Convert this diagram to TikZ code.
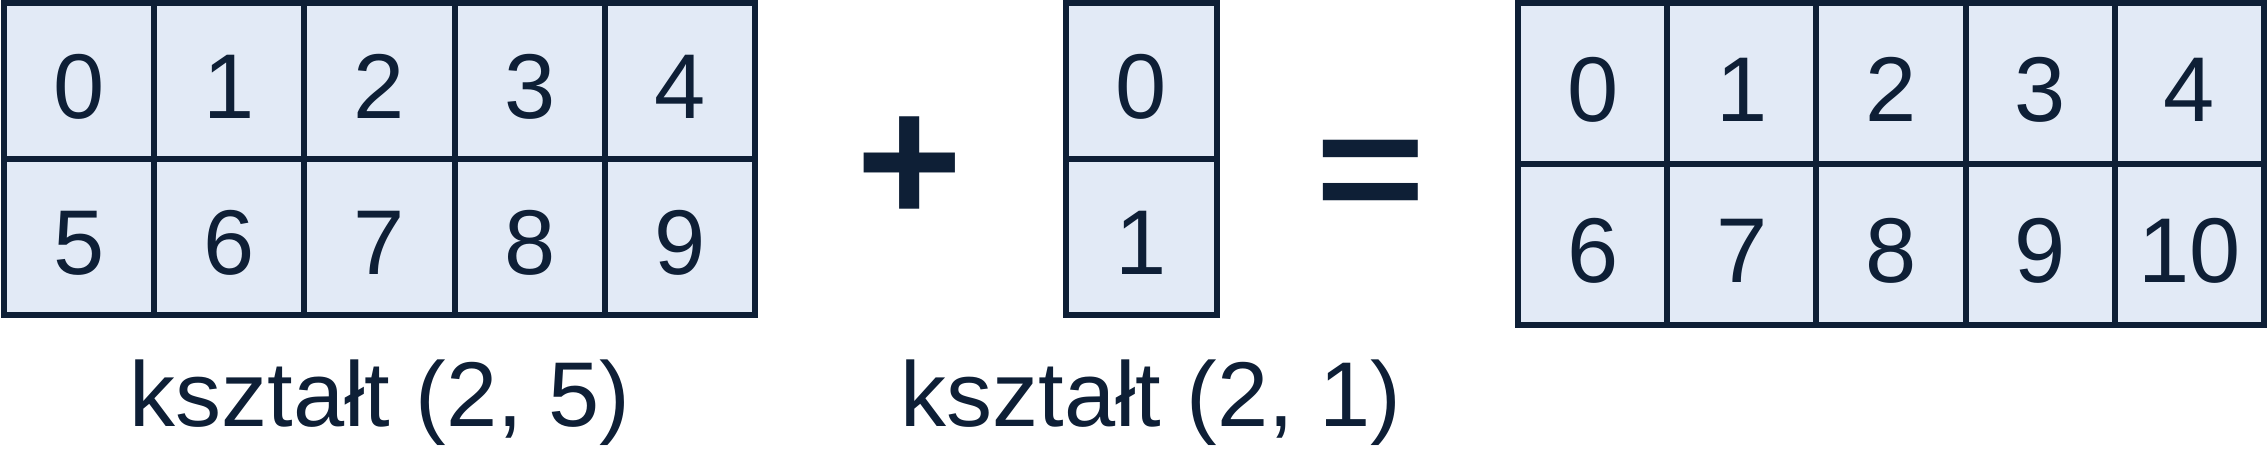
\documentclass[tikz,border=0pt]{standalone}
\usepackage{fontspec}
\setmainfont{Liberation Sans}
\usepackage{xcolor}
\usepackage{graphicx}
\usetikzlibrary{positioning}
\definecolor{gridnavy}{HTML}{0E1F36}
\definecolor{cellblue}{HTML}{E2EAF6}

\begin{document}
\begin{tikzpicture}[x=0.5pt,y=-0.5pt,node distance=75.1pt,
        cell/.style={rectangle,draw=gridnavy,fill=cellblue,line width=3pt,
          minimum width=75.1pt,minimum height=78pt,inner sep=0pt,
          text height=38pt,text depth=0pt,
          text=gridnavy,font=\fontsize{46}{50}\selectfont},
        wide cell/.style={cell,minimum width=74.6pt,minimum height=80.5pt},
        shape label/.style={anchor=base,text=gridnavy,font=\fontsize{46}{50}\selectfont},
        op sign/.style={text=gridnavy,inner sep=0pt,font=\fontsize{91}{95}\selectfont\bfseries}]
      \useasboundingbox (0,0) rectangle (2267,464);

      % array of shape (2,5)
      \node[cell] (a0) at (79,81) {0};
      \node[cell] (a1) [right of=a0] {1};
      \node[cell] (a2) [right of=a1] {2};
      \node[cell] (a3) [right of=a2] {3};
      \node[cell] (a4) [right of=a3] {4};
      \node[cell] (a5) [node distance=78pt,below of=a0] {5};
      \node[cell] (a6) [right of=a5] {6};
      \node[cell] (a7) [right of=a6] {7};
      \node[cell] (a8) [right of=a7] {8};
      \node[cell] (a9) [right of=a8] {9};

      % column of shape (2,1)
      \node[cell,minimum width=75.5pt] (b0) at (1141.5,81) {0};
      \node[cell,minimum width=75.5pt] (b1) [node distance=78pt,below of=b0] {1};

      % broadcast result
      \node[wide cell] (c0) at (1592.6,83.5) {0};
      \node[wide cell] (c1) [node distance=74.6pt,right of=c0] {1};
      \node[wide cell] (c2) [node distance=74.6pt,right of=c1] {2};
      \node[wide cell] (c3) [node distance=74.6pt,right of=c2] {3};
      \node[wide cell] (c4) [node distance=74.6pt,right of=c3] {4};
      \node[wide cell] (c5) [node distance=80.5pt,below of=c0] {6};
      \node[wide cell] (c6) [node distance=74.6pt,right of=c5] {7};
      \node[wide cell] (c7) [node distance=74.6pt,right of=c6] {8};
      \node[wide cell] (c8) [node distance=74.6pt,right of=c7] {9};
      \node[wide cell] (c9) [node distance=74.6pt,right of=c8] {10};

      \node[op sign] (plus) at (910,170) {+};
      \node[op sign] (equals) at (1371,182) {\scalebox{1.04}[0.88]{=}};

      \node[shape label] (la) at (380,427) {kształt (2, 5)};
      \node[shape label] (lb) at (1151,427) {kształt (2, 1)};
    \end{tikzpicture}
\end{document}
